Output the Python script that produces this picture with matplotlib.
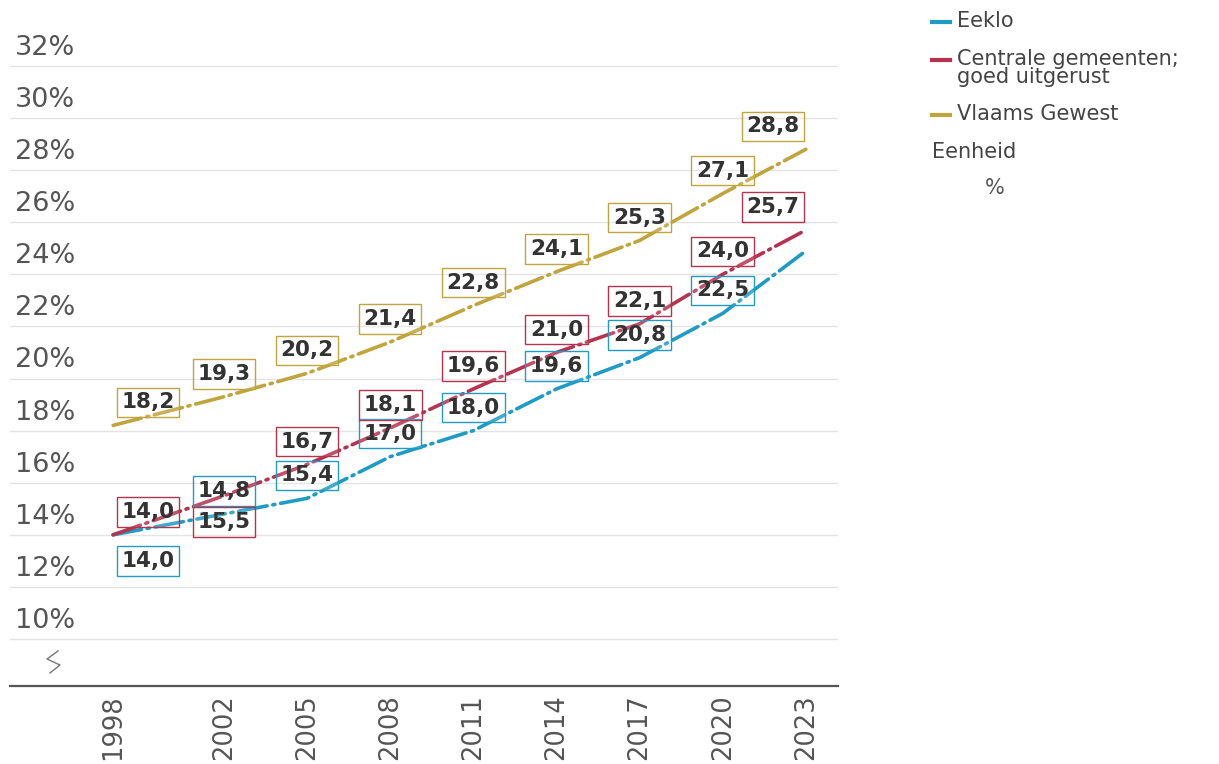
import matplotlib
matplotlib.use("Agg")
import matplotlib.pyplot as plt
from matplotlib.lines import Line2D
import matplotlib.transforms as mtransforms

# data
years = [1998, 2002, 2005, 2008, 2011, 2014, 2017, 2020, 2023]
eeklo = [14.0, 14.8, 15.4, 17.0, 18.0, 19.6, 20.8, 22.5, 24.9]
centrale = [14.0, 15.5, 16.7, 18.1, 19.6, 21.0, 22.1, 24.0, 25.7]
vlaams = [18.2, 19.3, 20.2, 21.4, 22.8, 24.1, 25.3, 27.1, 28.8]
series_names = ["Eeklo", "Centrale gemeenten;\ngoed uitgerust", "Vlaams Gewest"]
y_ticks = [10, 12, 14, 16, 18, 20, 22, 24, 26, 28, 30, 32]

# label placement (above / below / none)
pos_eeklo = ["below", "above", "above", "above", "above", "above", "above", "above", None]
pos_centrale = ["above", "below", "above", "above", "above", "above", "above", "above", "above"]
pos_vlaams = ["above"] * 9

colors = ["#1f9bc4", "#b5334f", "#c0a43c"]
txt_grey = "#555555"

fig = plt.figure(figsize=(12.19, 7.64), dpi=100)
ax = fig.add_axes([10 / 1219, 1 - 686 / 764, 828 / 1219, 656 / 764])
ax.set_xlim(1994.28, 2024.16)
ax.set_ylim(8.196, 33.38)

for s in ax.spines.values():
    s.set_visible(False)
ax.axhline(8.196, color="#555555", lw=1.6, zorder=2, clip_on=False)

# gridlines + y labels above gridlines
for v in y_ticks:
    ax.axhline(v, color="#e4e4e4", lw=1, zorder=0)
    tr = mtransforms.offset_copy(ax.get_yaxis_transform(), fig=fig, x=0, y=13, units="points")
    ax.text(0.006, v, f"{v}%", transform=tr, ha="left", va="center",
            fontsize=19.5, color=txt_grey)
ax.set_yticks([])

ax.set_xticks(years)
ax.set_xticklabels([str(y) for y in years], rotation=90, fontsize=18.5, color=txt_grey)
ax.tick_params(axis="x", length=0, pad=6)

# axis break symbol
zig_x = [(58 - 10) / 828, (47 - 10) / 828, (60 - 10) / 828, (50 - 10) / 828]
zig_y = [(686 - 651) / 656, (686 - 659) / 656, (686 - 665) / 656, (686 - 673) / 656]
ax.plot(zig_x, zig_y, transform=ax.transAxes, color="#777777", lw=1.0, clip_on=False)

dash = (0, (8, 1.6, 0.6, 1.6))
all_series = [(eeklo, pos_eeklo), (centrale, pos_centrale), (vlaams, pos_vlaams)]
for (vals, pos), col in zip(all_series, colors):
    ax.plot(years, vals, color=col, lw=2.6, linestyle=dash, zorder=3,
            solid_capstyle="round", dash_capstyle="round")
    n = len(years)
    for i, (yr, v, p) in enumerate(zip(years, vals, pos)):
        if p is None:
            continue
        dy = 16.5 if p == "above" else -19
        if i == 0:
            ha, dx = "left", 6
        elif i == n - 1:
            ha, dx = "right", -4.5
        else:
            ha, dx = "center", 0
        ax.annotate(f"{v:.1f}".replace(".", ","), (yr, v), xytext=(dx, dy),
                    textcoords="offset points", ha=ha, va="center",
                    fontsize=15.5, fontweight="bold", color="#333333", zorder=4,
                    bbox=dict(boxstyle="square,pad=0.22", facecolor=(1, 1, 1, 0.15),
                              edgecolor=col, lw=1))

# legend drawn by hand
def fx(px):
    return px / 1219

def fy(py):
    return 1 - py / 764

leg_rows = [22, 60, 115]
for name, col, py in zip(series_names, colors, leg_rows):
    fig.add_artist(Line2D([fx(932), fx(950)], [fy(py), fy(py)], color=col, lw=3))
    fig.text(fx(957), fy(py - 11), name, ha="left", va="top", fontsize=15,
             color="#444444", linespacing=0.9)
fig.text(fx(932), fy(152), "Eenheid", ha="left", va="center", fontsize=15, color="#444444")
fig.text(fx(985), fy(188), "%", ha="left", va="center", fontsize=15, color=txt_grey)

fig.savefig("out.png", dpi=100)
